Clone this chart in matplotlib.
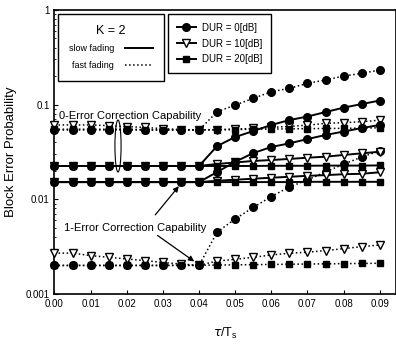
import matplotlib
matplotlib.use('Agg')
import matplotlib.pyplot as plt
from matplotlib.lines import Line2D
from matplotlib.patches import Ellipse
from matplotlib.ticker import FixedLocator, FuncFormatter, LogLocator, NullFormatter

plt.rcParams['font.family'] = ['Liberation Sans', 'DejaVu Sans']

# tau / Ts sample points
tau = [0.000, 0.005, 0.010, 0.015, 0.020, 0.025, 0.030, 0.035, 0.040, 0.045,
       0.050, 0.055, 0.060, 0.065, 0.070, 0.075, 0.080, 0.085, 0.090]

# slow fading, 0-error correction capability
slow0_dur0 = [0.0225, 0.0225, 0.0225, 0.0225, 0.0225, 0.0225, 0.0225, 0.0225, 0.0225, 0.0365,
              0.0455, 0.0526, 0.0610, 0.0687, 0.0749, 0.0835, 0.0930, 0.1014, 0.1105]
slow0_dur10 = [0.0225, 0.0225, 0.0225, 0.0225, 0.0225, 0.0225, 0.0225, 0.0225, 0.0225, 0.0236,
               0.0245, 0.0254, 0.0260, 0.0267, 0.0275, 0.0282, 0.0294, 0.0306, 0.0318]
slow0_dur20 = [0.0225, 0.0225, 0.0225, 0.0225, 0.0225, 0.0225, 0.0225, 0.0225, 0.0225, 0.0225,
               0.0225, 0.0225, 0.0226, 0.0226, 0.0226, 0.0227, 0.0227, 0.0227, 0.0228]

# slow fading, 1-error correction capability
slow1_dur0 = [0.0152, 0.0152, 0.0152, 0.0152, 0.0152, 0.0152, 0.0152, 0.0152, 0.0152, 0.0194,
              0.0249, 0.0308, 0.0357, 0.0390, 0.0433, 0.0478, 0.0520, 0.0566, 0.0610]
slow1_dur10 = [0.0152, 0.0152, 0.0152, 0.0152, 0.0152, 0.0152, 0.0152, 0.0152, 0.0152, 0.0157,
               0.0161, 0.0165, 0.0169, 0.0173, 0.0177, 0.0180, 0.0184, 0.0186, 0.0193]
slow1_dur20 = [0.0152, 0.0152, 0.0152, 0.0152, 0.0152, 0.0152, 0.0152, 0.0152, 0.0152, 0.0152,
               0.0152, 0.0152, 0.0152, 0.0152, 0.0153, 0.0153, 0.0153, 0.0153, 0.0153]

# fast fading, 0-error correction capability
fast0_dur0 = [0.0540, 0.0540, 0.0540, 0.0540, 0.0540, 0.0540, 0.0540, 0.0540, 0.0540, 0.0841,
              0.0990, 0.1164, 0.1370, 0.1486, 0.1680, 0.1820, 0.2005, 0.2140, 0.2320]
fast0_dur10 = [0.0610, 0.0610, 0.0610, 0.0600, 0.0587, 0.0574, 0.0558, 0.0546, 0.0540, 0.0546,
               0.0553, 0.0560, 0.0574, 0.0590, 0.0607, 0.0634, 0.0645, 0.0660, 0.0685]
fast0_dur20 = [0.0550, 0.0550, 0.0550, 0.0550, 0.0550, 0.0545, 0.0540, 0.0540, 0.0540, 0.0540,
               0.0545, 0.0550, 0.0552, 0.0555, 0.0558, 0.0560, 0.0562, 0.0565, 0.0570]

# fast fading, 1-error correction capability
fast1_dur0 = [0.0020, 0.0020, 0.0020, 0.0020, 0.0020, 0.0020, 0.0020, 0.0020, 0.0020, 0.0045,
              0.0062, 0.0082, 0.0107, 0.0135, 0.0160, 0.0195, 0.0235, 0.0280, 0.0324]
fast1_dur10 = [0.00270, 0.00270, 0.00254, 0.00244, 0.00234, 0.00225, 0.00215, 0.00207, 0.00200, 0.00223,
               0.00232, 0.00244, 0.00258, 0.00269, 0.00276, 0.00287, 0.00301, 0.00316, 0.00329]
fast1_dur20 = [0.00200, 0.00200, 0.00200, 0.00200, 0.00200, 0.00200, 0.00200, 0.00201, 0.00201, 0.00202,
               0.00203, 0.00204, 0.00205, 0.00206, 0.00207, 0.00208, 0.00209, 0.00210, 0.00211]

xticks = [0.00, 0.01, 0.02, 0.03, 0.04, 0.05, 0.06, 0.07, 0.08, 0.09]
yticks = [0.001, 0.01, 0.1, 1]
dur_labels = ['DUR = 0[dB]', 'DUR = 10[dB]', 'DUR = 20[dB]']

fig = plt.figure(figsize=(3.96, 3.45), dpi=100)
ax = fig.add_axes([0.1376, 0.148, 0.8624, 0.823])

# marker style per DUR value
styles = [dict(marker='o', mfc='black', mec='black', ms=5.5),
          dict(marker='v', mfc='white', mec='black', ms=5.5),
          dict(marker='s', mfc='black', mec='black', ms=5)]

slow = [(slow0_dur0, slow0_dur10, slow0_dur20), (slow1_dur0, slow1_dur10, slow1_dur20)]
fast = [(fast0_dur0, fast0_dur10, fast0_dur20), (fast1_dur0, fast1_dur10, fast1_dur20)]

for group in fast:
    for series, st in zip(group, styles):
        ax.plot(tau, series, color='black', ls=':', lw=1.1, clip_on=False, zorder=3, **st)
for group in slow:
    for series, st in zip(group, styles):
        ax.plot(tau, series, color='black', ls='-', lw=1.4, clip_on=False, zorder=4, **st)

ax.set_yscale('log')
ax.set_xlim(0, 0.0945)
ax.set_ylim(0.001, 1)
ax.xaxis.set_major_locator(FixedLocator(xticks))
ax.xaxis.set_major_formatter(FuncFormatter(lambda v, p: '%.2f' % v))
ax.yaxis.set_major_locator(FixedLocator(yticks))
ax.yaxis.set_major_formatter(FuncFormatter(lambda v, p: '%g' % v))
ax.yaxis.set_minor_locator(LogLocator(base=10, subs=range(2, 10)))
ax.yaxis.set_minor_formatter(NullFormatter())
ax.tick_params(which='both', direction='in', labelsize=7)
ax.tick_params(which='major', length=3)
ax.tick_params(which='minor', length=1.5)
for s in ax.spines.values():
    s.set_linewidth(1.2)

ax.set_ylabel('Block Error Probability', fontsize=9.5, labelpad=6)
ax.set_xlabel(r'$\tau$/T$_\mathregular{s}$', fontsize=9, labelpad=12)

# legend: fading type
fad_handles = [Line2D([], [], color='black', ls='-', lw=1.4),
               Line2D([], [], color='black', ls=':', lw=1.1)]
leg1 = ax.legend(fad_handles, ['slow fading', 'fast fading'], title='K = 2',
                 loc='upper left', bbox_to_anchor=(0.01, 0.986), borderaxespad=0,
                 markerfirst=False, fontsize=6.5, title_fontsize=9,
                 fancybox=False, edgecolor='black', framealpha=1,
                 handlelength=3.1, handletextpad=1.2, labelspacing=0.85, borderpad=1.2)
leg1.get_frame().set_linewidth(1.0)
ax.add_artist(leg1)

dur_handles = [Line2D([], [], color='black', ls='-', lw=1.4, **st) for st in styles]
leg2 = ax.legend(dur_handles, dur_labels, loc='upper left',
                 bbox_to_anchor=(0.332, 0.986), borderaxespad=0,
                 fontsize=7, fancybox=False, edgecolor='black', framealpha=1,
                 handlelength=2.0, handletextpad=0.6, labelspacing=0.6, borderpad=0.9)
leg2.get_frame().set_linewidth(1.0)

# annotations
ax.text(0.021, 0.076, '0-Error Correction Capability', fontsize=8,
        ha='center', va='center', zorder=6)
ax.add_patch(Ellipse((0.186, 0.521), 0.018, 0.183, transform=ax.transAxes,
                     fill=False, ec='black', lw=0.8, zorder=6))
ax.text(0.0224, 0.00498, '1-Error Correction Capability', fontsize=8,
        ha='center', va='center', zorder=6)
ax.annotate('', xy=(0.0349, 0.0145), xytext=(0.0274, 0.0065),
            arrowprops=dict(arrowstyle='-|>', color='black', lw=0.9, mutation_scale=8))
ax.annotate('', xy=(0.0393, 0.00212), xytext=(0.0279, 0.00431),
            arrowprops=dict(arrowstyle='-|>', color='black', lw=0.9, mutation_scale=8))

fig.savefig('out.png', dpi=100)
